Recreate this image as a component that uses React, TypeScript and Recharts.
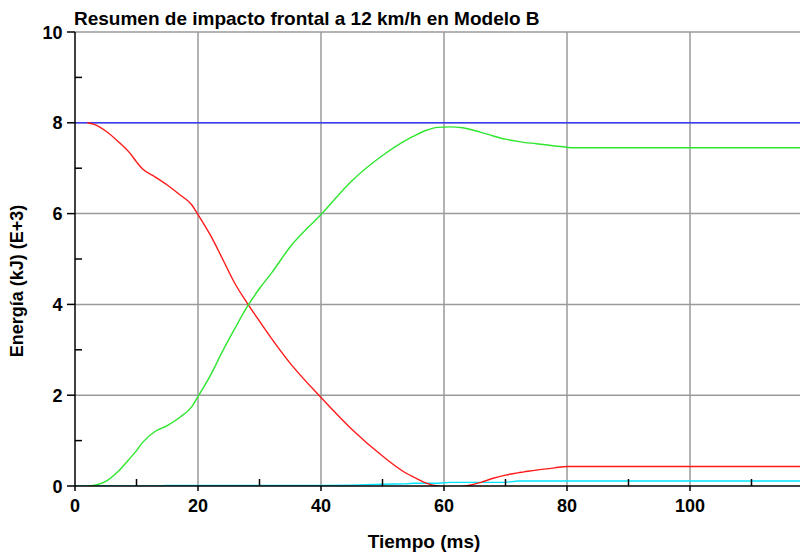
import React from "react";
import { LineChart, Line, XAxis, YAxis, CartesianGrid } from "recharts";

const time = [0, 2, 3, 5, 7, 9, 10, 11, 13, 15, 17, 19, 20, 22, 24, 26, 28, 30, 32, 35, 40, 45, 50, 54, 55, 57, 59, 61, 63, 66, 68, 70, 72, 73, 75, 78, 80, 81, 90, 100, 110, 120];

const totalEnergy = [8, 8, 8, 8, 8, 8, 8, 8, 8, 8, 8, 8, 8, 8, 8, 8, 8, 8, 8, 8, 8, 8, 8, 8, 8, 8, 8, 8, 8, 8, 8, 8, 8, 8, 8, 8, 8, 8, 8, 8, 8, 8];

const kineticEnergy = [null, 8.0, 7.97, 7.82, 7.59, 7.32, 7.14, 6.98, 6.81, 6.63, 6.42, 6.19, 5.98, 5.53, 5.0, 4.46, 4.03, 3.63, 3.24, 2.7, 1.95, 1.25, 0.66, 0.27, 0.2, 0.07, 0.0, -0.02, -0.01, 0.08, 0.17, 0.24, 0.29, 0.31, 0.35, 0.4, 0.43, 0.43, 0.43, 0.43, 0.43, 0.43];

const internalEnergy = [null, 0, 0.01, 0.1, 0.32, 0.62, 0.78, 0.96, 1.2, 1.33, 1.51, 1.75, 1.97, 2.43, 2.97, 3.47, 3.95, 4.35, 4.7, 5.27, 5.98, 6.72, 7.28, 7.63, 7.7, 7.83, 7.9, 7.91, 7.89, 7.79, 7.71, 7.64, 7.59, 7.57, 7.54, 7.49, 7.46, 7.45, 7.45, 7.45, 7.45, 7.45];

const hourglassEnergy = [0, 0, 0, 0, 0, 0, 0, 0, 0, 0.01, 0.01, 0.01, 0.01, 0.01, 0.01, 0.01, 0.01, 0.01, 0.01, 0.01, 0.01, 0.02, 0.04, 0.05, 0.06, 0.06, 0.06, 0.08, 0.08, 0.08, 0.08, 0.08, 0.11, 0.11, 0.11, 0.11, 0.11, 0.11, 0.11, 0.11, 0.11, 0.11];

const slidingEnergy = [-0.02, -0.02, -0.02, -0.02, -0.02, -0.02, -0.02, -0.02, -0.02, -0.02, -0.02, -0.02, -0.02, -0.02, -0.02, -0.02, -0.02, -0.02, -0.02, -0.02, -0.02, -0.02, -0.02, -0.02, null, null, null, null, null, null, null, null, null, null, null, null, null, null, null, null, null, null];

const xTicks = [0, 10, 20, 30, 40, 50, 60, 70, 80, 90, 100, 110];
const xLabelledTicks = [0, 20, 40, 60, 80, 100];
const yTicks = [0, 1, 2, 3, 4, 5, 6, 7, 8, 9, 10];
const yLabelledTicks = [0, 2, 4, 6, 8, 10];
const gridX = [20, 40, 60, 80, 100, 120];
const gridY = [2, 4, 6, 8, 10];

const title = "Resumen de impacto frontal a 12 km/h en Modelo B";
const xLabel = "Tiempo (ms)";
const yLabel = "Energía (kJ) (E+3)";

const data = time.map((t, i) => ({
  t,
  total: totalEnergy[i],
  kinetic: kineticEnergy[i],
  internal: internalEnergy[i],
  hourglass: hourglassEnergy[i],
  sliding: slidingEnergy[i],
}));

const FONT = "'Liberation Sans', Arial, sans-serif";

const YTick = (props: any) => {
  const { x, y, payload } = props;
  const v = payload.value;
  if (yLabelledTicks.includes(v)) {
    return (
      <g>
        <line x1={x - 8} x2={x} y1={y} y2={y} stroke="#000" strokeWidth={1.5} />
        <text x={x - 12.5} y={y} dy={6.5} textAnchor="end" fontFamily={FONT} fontWeight="bold" fontSize={18} fill="#000">
          {v}
        </text>
      </g>
    );
  }
  return <line x1={x} x2={x + 7} y1={y} y2={y} stroke="#000" strokeWidth={1.5} />;
};

const XTick = (props: any) => {
  const { x, y, payload } = props;
  const v = payload.value;
  if (xLabelledTicks.includes(v)) {
    return (
      <g>
        <line x1={x} x2={x} y1={y} y2={y + 5} stroke="#000" strokeWidth={1.5} />
        <text x={x} y={y + 25.7} textAnchor="middle" fontFamily={FONT} fontWeight="bold" fontSize={18} fill="#000">
          {v}
        </text>
      </g>
    );
  }
  return <line x1={x} x2={x} y1={y} y2={y - 7} stroke="#000" strokeWidth={1.5} />;
};

const XTitle = () => (
  <text x={416} y={540} textAnchor="middle" fontFamily={FONT} fontWeight="bold" fontSize={19} fill="#000">
    {xLabel}
  </text>
);

const YTitle = () => (
  <text x={15} y={273} transform="rotate(-90 15 273)" textAnchor="middle" fontFamily={FONT} fontWeight="bold" fontSize={18} fill="#000">
    {yLabel}
  </text>
);

export default function App() {
  return (
    <div style={{ position: "relative", width: 800, height: 548, overflow: "hidden", background: "#fff" }}>
      <style>{"body{overflow:hidden;background:#fff}"}</style>
      <div
        style={{
          position: "absolute",
          left: 66,
          top: 1,
          fontFamily: FONT,
          fontWeight: "bold",
          fontSize: 19,
          lineHeight: "19px",
          whiteSpace: "nowrap",
          color: "#000",
        }}
      >
        {title}
      </div>
      <LineChart width={830} height={548} data={data} margin={{ top: 24, right: 25, bottom: 30, left: 7 }}>
        <CartesianGrid horizontalValues={gridY} verticalValues={gridX} stroke="#9a9a9a" strokeWidth={1.5} />
        <XAxis
          dataKey="t"
          type="number"
          domain={[0, 120]}
          ticks={xTicks}
          interval={0}
          height={40}
          tickSize={0}
          tickMargin={0}
          tickLine={false}
          axisLine={{ stroke: "#000", strokeWidth: 1.5 }}
          tick={<XTick />}
          label={<XTitle />}
        />
        <YAxis
          type="number"
          domain={[0, 10]}
          ticks={yTicks}
          interval={0}
          width={60}
          tickSize={0}
          tickMargin={0}
          tickLine={false}
          allowDataOverflow
          axisLine={{ stroke: "#000", strokeWidth: 1.5 }}
          tick={<YTick />}
          label={<YTitle />}
        />
        <Line dataKey="total" stroke="#3b3bf5" strokeWidth={1.4} dot={false} isAnimationActive={false} type="linear" />
        <Line dataKey="sliding" stroke="#ff00ff" strokeWidth={1.4} dot={false} isAnimationActive={false} type="linear" />
        <Line dataKey="hourglass" stroke="#00e5ff" strokeWidth={1.4} dot={false} isAnimationActive={false} type="linear" />
        <Line dataKey="kinetic" stroke="#ff1a1a" strokeWidth={1.4} dot={false} isAnimationActive={false} type="monotone" />
        <Line dataKey="internal" stroke="#2ee62e" strokeWidth={1.4} dot={false} isAnimationActive={false} type="monotone" />
      </LineChart>
    </div>
  );
}
